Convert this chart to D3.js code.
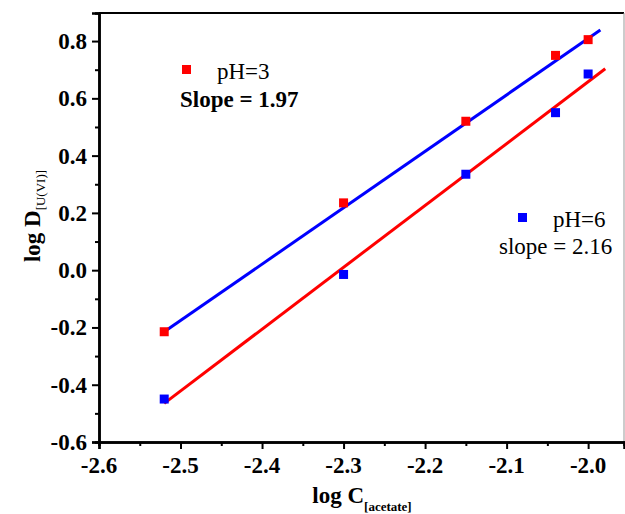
<!DOCTYPE html>
<html>
<head>
<meta charset="utf-8">
<script src="https://cdn.jsdelivr.net/npm/d3@7"></script>
<style>
body { margin: 0; background: #fff; }
</style>
</head>
<body>
<svg id="chart" width="625" height="514"></svg>
<script>
// data
var logC = [-2.52, -2.30, -2.15, -2.04, -2.00];
var ph3 = [-0.215, 0.235, 0.52, 0.75, 0.805];
var ph6 = [-0.45, -0.015, 0.335, 0.55, 0.685];
// linear fits: [slope, intercept, xstart, xend]
var fit3 = [1.97, 4.749, -2.52, -1.985];
var fit6 = [2.16, 4.978, -2.52, -1.979];
var xTicks = [-2.6, -2.5, -2.4, -2.3, -2.2, -2.1, -2.0];
var xMinor = [-2.55, -2.45, -2.35, -2.25, -2.15, -2.05];
var yTicks = [-0.6, -0.4, -0.2, 0.0, 0.2, 0.4, 0.6, 0.8];
var yMinor = [-0.5, -0.3, -0.1, 0.1, 0.3, 0.5, 0.7];

var serif = 'Liberation Serif, Times New Roman, serif';
var svg = d3.select('#chart').attr('font-family', serif);
var mLeft = 99, mRight = 624, mTop = 13, mBottom = 442;

var x = d3.scaleLinear()
	.domain([-2.6, -1.956])
	.range([mLeft, mRight]);

var y = d3.scaleLinear()
	.domain([-0.6, 0.898])
	.range([mBottom, mTop]);

// fit lines (blue goes with pH=3 points, red with pH=6 as in the original)
function fitPts(f) {
	return [[f[2], f[0]*f[2] + f[1]], [f[3], f[0]*f[3] + f[1]]];
}
var line = d3.line()
	.x(function(d) { return x(d[0]); })
	.y(function(d) { return y(d[1]); });

svg.append('path').datum(fitPts(fit3))
	.attr('d', line).attr('stroke', '#0000ff').attr('stroke-width', 3).attr('fill', 'none');
svg.append('path').datum(fitPts(fit6))
	.attr('d', line).attr('stroke', '#ff0000').attr('stroke-width', 3).attr('fill', 'none');

var ms = 9;
svg.selectAll('.p3').data(logC).enter().append('rect')
	.attr('x', function(d) { return x(d) - ms/2; })
	.attr('y', function(d, i) { return y(ph3[i]) - ms/2; })
	.attr('width', ms).attr('height', ms).attr('fill', '#ff0000');
svg.selectAll('.p6').data(logC).enter().append('rect')
	.attr('x', function(d) { return x(d) - ms/2; })
	.attr('y', function(d, i) { return y(ph6[i]) - ms/2; })
	.attr('width', ms).attr('height', ms).attr('fill', '#0000ff');

// frame
svg.append('line').attr('x1', mLeft).attr('x2', mRight).attr('y1', mTop).attr('y2', mTop)
	.attr('stroke', '#000').attr('stroke-width', 2);
svg.append('line').attr('x1', mRight).attr('x2', mRight).attr('y1', mTop).attr('y2', mBottom)
	.attr('stroke', '#999').attr('stroke-width', 1);

var fmt = function(d) { return d.toFixed(1); };

// axes (lines from d3.axis, labels drawn separately)
svg.append('g').attr('transform', 'translate(0,' + mBottom + ')')
	.call(d3.axisBottom(x).tickValues(xMinor).tickSize(4).tickFormat(''));
svg.append('g').attr('transform', 'translate(0,' + mBottom + ')')
	.call(d3.axisBottom(x).tickValues(xTicks).tickSize(7).tickFormat(''));
svg.append('g').attr('transform', 'translate(' + mLeft + ',0)')
	.call(d3.axisLeft(y).tickValues(yMinor).tickSize(4).tickFormat(''));
svg.append('g').attr('transform', 'translate(' + mLeft + ',0)')
	.call(d3.axisLeft(y).tickValues(yTicks).tickSize(7).tickFormat(''));

svg.selectAll('.domain').attr('stroke-width', 2.5);
svg.selectAll('.tick line').attr('stroke-width', 2);

svg.selectAll('.xlab').data(xTicks).enter().append('text')
	.attr('class', 'xlab')
	.attr('x', function(d) { return x(d); })
	.attr('y', 473)
	.attr('text-anchor', 'middle')
	.attr('font-family', serif).attr('font-size', 23).attr('font-weight', 'bold')
	.text(fmt);
svg.selectAll('.ylab').data(yTicks).enter().append('text')
	.attr('class', 'ylab')
	.attr('x', mLeft - 12)
	.attr('y', function(d) { return y(d) + 8; })
	.attr('text-anchor', 'end')
	.attr('font-family', serif).attr('font-size', 23).attr('font-weight', 'bold')
	.text(fmt);

// axis titles
var xt = svg.append('text').attr('x', 362).attr('y', 503).attr('text-anchor', 'middle')
	.attr('font-size', 23).attr('font-weight', 'bold');
xt.append('tspan').text('log C');
xt.append('tspan').attr('font-size', 13).attr('dy', 8).text('[acetate]');

var yt = svg.append('text').attr('transform', 'translate(40,216) rotate(-90)')
	.attr('text-anchor', 'middle').attr('font-size', 23).attr('font-weight', 'bold');
yt.append('tspan').text('log D');
yt.append('tspan').attr('font-size', 13).attr('font-weight', 'normal').attr('dy', 5).text('[U(VI)]');

// legends
svg.append('rect').attr('x', 182).attr('y', 65).attr('width', 9).attr('height', 9).attr('fill', '#ff0000');
svg.append('text').attr('x', 217).attr('y', 79).attr('font-size', 23).text('pH=3');
svg.append('text').attr('x', 180).attr('y', 107).attr('font-size', 23).attr('font-weight', 'bold').text('Slope = 1.97');

svg.append('rect').attr('x', 518).attr('y', 213).attr('width', 9).attr('height', 9).attr('fill', '#0000ff');
svg.append('text').attr('x', 553).attr('y', 227).attr('font-size', 23).text('pH=6');
svg.append('text').attr('x', 499).attr('y', 254).attr('font-size', 23).text('slope = 2.16');
</script>
</body>
</html>
